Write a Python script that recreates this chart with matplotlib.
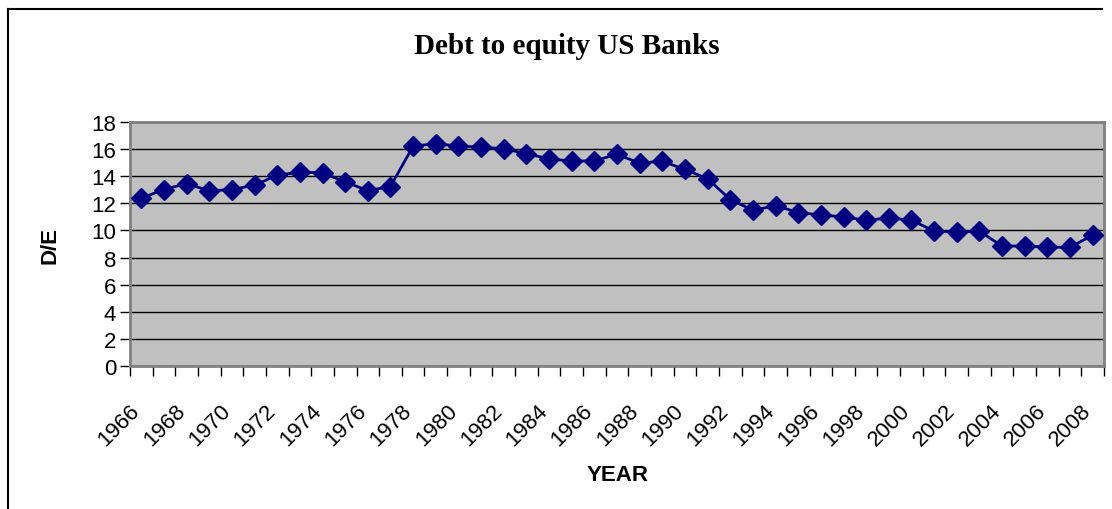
import matplotlib.pyplot as plt
from matplotlib.lines import Line2D
from matplotlib.ticker import FixedLocator, MultipleLocator
from matplotlib.transforms import ScaledTranslation

# debt to equity ratio of US banks, one value per year
years = list(range(1966, 2009))
de_ratio = [12.38, 13.02, 13.46, 12.92, 13.02, 13.34, 14.08, 14.30, 14.25, 13.58,
            12.94, 13.24, 16.22, 16.40, 16.22, 16.15, 16.03, 15.66, 15.29, 15.11,
            15.14, 15.61, 14.97, 15.11, 14.50, 13.81, 12.28, 11.49, 11.83, 11.32,
            11.14, 11.00, 10.75, 10.92, 10.75, 9.96, 9.89, 9.94, 8.85, 8.85,
            8.78, 8.75, 9.66]
year_labels = [str(y) if (y - 1966) % 2 == 0 else '' for y in years]

plt.rcParams['font.family'] = ['Liberation Sans', 'DejaVu Sans']

fig = plt.figure(figsize=(11.12, 5.10), dpi=100)
ax = fig.add_axes([130 / 1112, 143 / 510, 974 / 1112, 244 / 510])

pos = list(range(len(years)))
ax.plot(pos, de_ratio, color='#000080', lw=2, marker='D', ms=10,
        markerfacecolor='#000080', markeredgecolor='#000080', zorder=3)

ax.set_facecolor('#C0C0C0')
ax.set_xlim(-0.5, len(years) - 0.5)
ax.set_ylim(0, 18)
ax.yaxis.set_major_locator(MultipleLocator(2))
ax.grid(axis='y', color='black', lw=1)
ax.set_axisbelow(True)

for side in ['top', 'right', 'left', 'bottom']:
    ax.spines[side].set_color('#808080')
    ax.spines[side].set_linewidth(2)

# category boundaries carry the tick marks, labels sit at category centres
ax.xaxis.set_major_locator(FixedLocator(pos))
ax.xaxis.set_minor_locator(FixedLocator([p - 0.5 for p in pos] + [len(pos) - 0.5]))
ax.set_xticklabels(year_labels, rotation=45, ha='right', rotation_mode='anchor', fontsize=16)
ax.tick_params(axis='x', which='major', length=0, pad=24)
ax.tick_params(axis='x', which='minor', length=7, width=1, color='black', direction='out')
ax.tick_params(axis='y', length=7, width=1, color='black', labelsize=16, pad=3)

# nudge the slanted year labels a little to the left
shift = ScaledTranslation(-12 / 100, 0, fig.dpi_scale_trans)
for lbl in ax.get_xticklabels():
    lbl.set_transform(lbl.get_transform() + shift)

ax.set_ylabel('D/E', fontsize=16, fontweight='bold', labelpad=22)
fig.text(618 / 1112, 1 - 476 / 510, 'YEAR', fontsize=16, fontweight='bold',
         ha='center', va='center')
fig.text(567 / 1112, 1 - 46 / 510, 'Debt to equity US Banks', fontsize=21,
         fontweight='bold', family='Liberation Serif', ha='center', va='center')

# frame around the chart
fig.add_artist(Line2D([8 / 1112, 1102 / 1112], [1 - 10 / 510, 1 - 10 / 510],
                      transform=fig.transFigure, color='black', lw=1.5))
fig.add_artist(Line2D([8 / 1112, 8 / 1112], [1 - 10 / 510, 0],
                      transform=fig.transFigure, color='black', lw=1.5))

fig.savefig('out.png', dpi=100)
